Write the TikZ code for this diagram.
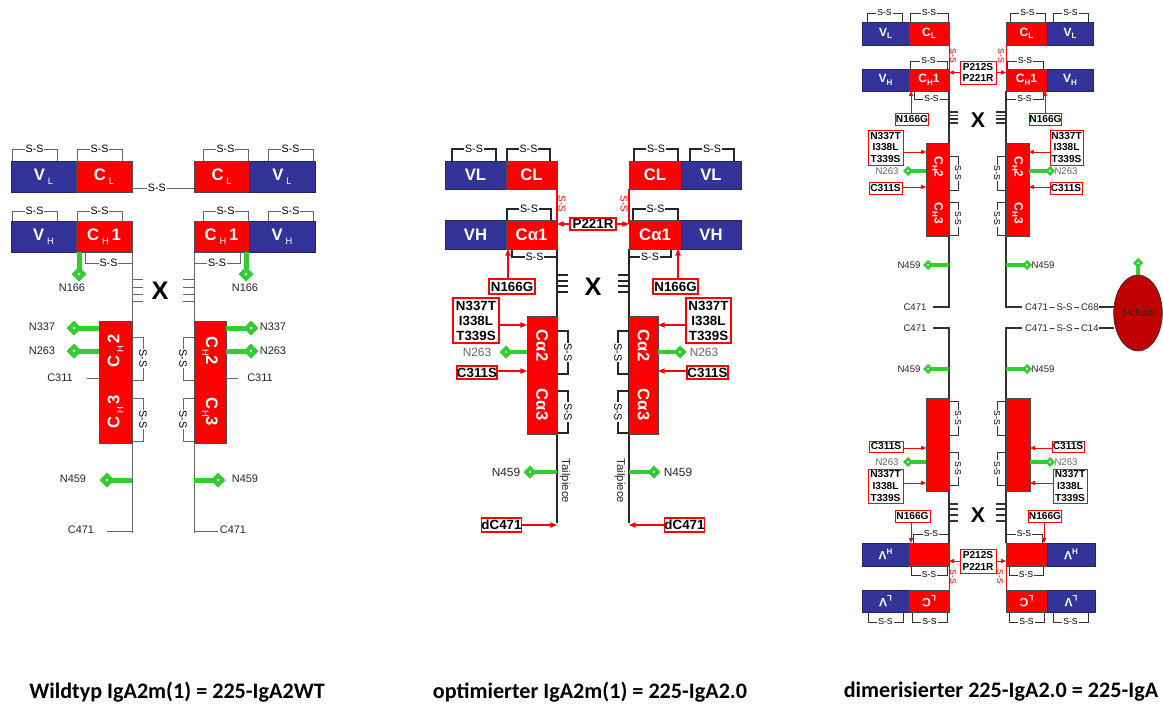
\documentclass[tikz,border=0pt]{standalone}
\usepackage{fontspec}
\setmainfont{Liberation Sans}
\newfontfamily\capfont{Carlito}
\usetikzlibrary{shapes.geometric,arrows.meta}
\definecolor{igblue}{RGB}{51,51,153}
\definecolor{igred}{RGB}{255,0,0}
\definecolor{iggreen}{RGB}{51,204,51}
\definecolor{jred}{RGB}{192,0,0}
\newcommand\fs[1]{\fontsize{#1}{#1}\selectfont}
\newcommand\dom[7]{\node[#2,minimum width={(#5-#3)*0.75pt},minimum height={(#6-#4)*0.75pt}] (#1) at ({(#3+#5)/2},{(#4+#6)/2}) {#7};}
\newcommand\ssh[5]{\draw[#5] (#1,#3) -- (#1,#4) -- node[sst]{S-S} (#2,#4) -- (#2,#3);}
\newcommand\ssv[5]{\draw[#5] (#1,#3) -- (#2,#3) -- node[sst,rotate=-90]{S-S} (#2,#4) -- (#1,#4);}
\newcommand\hatch[4]{\foreach \hy in {#3} {\draw[#4] (#1,\hy) -- (#2,\hy);}}
\newcommand\gly[5]{\node[glyd,minimum size={#4*0.75pt}] (#1) at #3 {};
  \draw[draw=iggreen,line width={#5*0.75pt}] #2 -- (#1.center);
  \fill[white] (#1.center) circle ({#5*0.22pt});}
\newcommand\sbs[1]{\raisebox{-0.45ex}{\mdseries\fs{7}#1}}
\newcommand\sbr[1]{\raisebox{-0.4ex}{\fs{6}#1}}
\newcommand\flp[1]{\rotatebox[origin=c]{180}{#1}}
\tikzset{
  every node/.style={inner sep=0pt,outer sep=0pt},
  bx/.style={draw=black!70,line width=0.4pt,text=white},
  bluebox/.style={bx,fill=igblue,draw=igblue!70!black},
  redbox/.style={bx,fill=igred},
  fL/.style={font=\bfseries\fs{12.5}},
  fM/.style={font=\bfseries\fs{12.5}},
  fR/.style={font=\bfseries\fs{9}},
  sst/.style={fill=white,inner sep=0.7pt},
  glyd/.style={diamond,fill=iggreen,inner sep=0pt},
  labL/.style={font=\fs{8.2},text=black!85},
  labM/.style={font=\fs{8.9},text=black!85},
  labR/.style={font=\fs{7.2},text=black!85},
  mutM/.style={draw=igred,line width=0.9pt,fill=white,text=black,align=center,font=\bfseries\fontsize{10}{11.3}\selectfont},
  mutR/.style={draw=igred,line width=0.7pt,fill=white,text=black,align=center,font=\bfseries\fontsize{7.6}{8.8}\selectfont},
  marr/.style={draw=igred,line width=0.8pt,-{Triangle[length=5pt,width=4pt]}},
  rarr/.style={draw=igred,line width=0.6pt,-{Triangle[length=3.6pt,width=3pt]}},
  redl/.style={draw=igred,line width=0.8pt},
  redss/.style={text=igred,rotate=-90},
  capt/.style={font=\capfont\bfseries\fs{16.6}}
}
\begin{document}
\begin{tikzpicture}[x=0.75pt,y=-0.75pt]
\useasboundingbox (0,0) rectangle (1163,704);

%%%%%%%%%%%%%%%% LEFT: wild type
\begin{scope}[lss/.style={draw=black!60,line width=0.6pt,font=\fs{8}},hl/.style={draw=black!60,line width=0.7pt}]
\draw[hl] (132,252) -- (132,533);
\draw[hl] (194,252) -- (194,533);
\draw[hl] (107,531) -- (132,531);
\draw[hl] (194,531) -- (218,531);
\ssh{12}{57}{161}{149}{lss}
\ssh{77}{122}{161}{149}{lss}
\ssh{203}{248}{161}{149}{lss}
\ssh{268}{313}{161}{149}{lss}
\ssh{12}{57}{221}{211}{lss}
\ssh{77}{122}{221}{211}{lss}
\ssh{203}{248}{221}{211}{lss}
\ssh{268}{313}{221}{211}{lss}
\ssh{85}{132}{252}{263}{lss}
\ssh{194}{240}{252}{263}{lss}
\ssv{132}{143}{337}{380}{lss}
\ssv{132}{143}{398}{441}{lss}
\ssv{194}{183}{337}{380}{lss}
\ssv{194}{183}{398}{441}{lss}
\hatch{132}{143}{279,287,294,301}{hl}
\hatch{183}{194}{279,287,294,301}{hl}
\dom{vlL1}{bluebox,fL}{11}{161}{76}{192}{V\,\sbs{L}}
\dom{clL1}{redbox,fL}{76}{161}{132}{192}{C\,\sbs{L}}
\dom{clR1}{redbox,fL}{194}{161}{249}{192}{C\,\sbs{L}}
\dom{vlR1}{bluebox,fL}{249}{161}{315}{192}{V\,\sbs{L}}
\dom{vhL1}{bluebox,fL}{11}{221}{76}{252}{V\,\sbs{H}}
\dom{chL1}{redbox,fL}{76}{221}{132}{252}{C\,\sbs{H}\,1}
\dom{chR1}{redbox,fL}{194}{221}{249}{252}{C\,\sbs{H}\,1}
\dom{vhR1}{bluebox,fL}{249}{221}{315}{252}{V\,\sbs{H}}
\dom{ch2L}{redbox,fL}{99}{321}{132}{381}{\rotatebox{90}{C\,\sbs{H}\,2}}
\dom{ch3L}{redbox,fL}{99}{381}{132}{443}{\rotatebox{90}{C\,\sbs{H}\,3}}
\dom{ch2R}{redbox,fL}{194}{321}{226}{381}{\rotatebox{-90}{C\sbs{H}2}}
\dom{ch3R}{redbox,fL}{194}{381}{226}{443}{\rotatebox{-90}{C\sbs{H}3}}
\draw[lss] (clL1.east |- 0,188) -- node[sst,pos=0.4]{S-S} (clR1.west |- 0,188);
\draw[hl] (87,378) -- (ch2L.west |- 0,378);
\draw[hl] (ch2R.east |- 0,378) -- (238,378);
\gly{g166L}{(chL1.south -| 79,0)}{(79,274)}{15}{5}
\gly{g166R}{(chR1.south -| 246,0)}{(246,274)}{15}{5}
\gly{g337L}{(ch2L.west |- 0,328)}{(74,328)}{15}{5}
\gly{g337R}{(ch2R.east |- 0,328)}{(251,328)}{15}{5}
\gly{g263L}{(ch2L.west |- 0,351)}{(74,351)}{15}{5}
\gly{g263R}{(ch2R.east |- 0,351)}{(251,351)}{15}{5}
\gly{g459L}{(132,480)}{(107,480)}{15}{5}
\gly{g459R}{(194,480)}{(218,480)}{15}{5}
\node[labL] at (72,288) {N166};
\node[labL] at (245,288) {N166};
\node[labL] at (42,327) {N337};
\node[labL] at (273,327) {N337};
\node[labL] at (42,351) {N263};
\node[labL] at (273,351) {N263};
\node[labL] at (60,378) {C311};
\node[labL] at (260,378) {C311};
\node[labL] at (73,479) {N459};
\node[labL] at (245,479) {N459};
\node[labL] at (81,530) {C471};
\node[labL] at (233,530) {C471};
\node[font=\bfseries\fs{19}] at (160,291) {X};
\end{scope}

%%%%%%%%%%%%%%%% MIDDLE: optimised
\begin{scope}[mss/.style={draw=black!85,line width=0.9pt,font=\fs{8}},ml/.style={draw=black!85,line width=1pt}]
\coordinate (tailL) at (557,523);
\coordinate (tailR) at (629,523);
\draw[ml] (557,249) -- (tailL);
\draw[ml] (629,249) -- (tailR);
\ssh{452}{496}{161}{149}{mss}
\ssh{507}{550}{161}{149}{mss}
\ssh{634}{678}{161}{149}{mss}
\ssh{690}{734}{161}{149}{mss}
\ssh{507}{551}{220}{209}{mss}
\ssh{633}{678}{220}{209}{mss}
\ssh{512}{557}{249}{257}{mss}
\ssh{629}{671}{249}{257}{mss}
\ssv{557}{568}{331}{374}{mss}
\ssv{557}{568}{391}{433}{mss}
\ssv{629}{618}{331}{374}{mss}
\ssv{629}{618}{391}{433}{mss}
\hatch{557}{568}{275,281,286,292}{ml}
\hatch{618}{629}{275,281,286,292}{ml}
\dom{vlL2}{bluebox,fM}{445}{161}{506}{189}{VL}
\dom{clL2}{redbox,fM}{506}{161}{557}{189}{CL}
\dom{clR2}{redbox,fM}{629}{161}{681}{189}{CL}
\dom{vlR2}{bluebox,fM}{681}{161}{741}{189}{VL}
\dom{vhL2}{bluebox,fM}{445}{220}{506}{249}{VH}
\dom{caL1}{redbox,fM}{506}{220}{557}{249}{Cα1}
\dom{caR1}{redbox,fM}{629}{220}{681}{249}{Cα1}
\dom{vhR2}{bluebox,fM}{681}{220}{741}{249}{VH}
\dom{ca2L}{redbox,fM}{527}{316}{557}{375}{\rotatebox{-90}{Cα2}}
\dom{ca3L}{redbox,fM}{527}{375}{557}{434}{\rotatebox{-90}{Cα3}}
\dom{ca2R}{redbox,fM}{629}{316}{658}{375}{\rotatebox{-90}{Cα2}}
\dom{ca3R}{redbox,fM}{629}{375}{658}{434}{\rotatebox{-90}{Cα3}}
\gly{m263L}{(ca2L.west |- 0,352)}{(506,352)}{13}{4}
\gly{m263R}{(ca2R.east |- 0,352)}{(680,352)}{13}{4}
\gly{m459L}{(557,472)}{(530,472)}{13}{4}
\gly{m459R}{(629,472)}{(654,472)}{13}{4}
\node[labM,text=black!60] at (477,352) {N263};
\node[labM,text=black!60] at (704,352) {N263};
\node[labM] at (506,472) {N459};
\node[labM] at (678,472) {N459};
\node[labM,rotate=-90,font=\fs{8.5}] at (565,481) {Tailpiece};
\node[labM,rotate=-90,font=\fs{8.5}] at (620,481) {Tailpiece};
\node[font=\bfseries\fs{19}] at (593,287) {X};
\dom{p221}{mutM}{570}{218}{616}{230}{P221R}
\dom{n166L}{mutM}{489}{279}{535}{294}{N166G}
\dom{n166R}{mutM}{653}{279}{698}{294}{N166G}
\dom{mutL}{mutM}{453}{298}{499}{343}{N337T\\I338L\\T339S}
\dom{mutR}{mutM}{686}{298}{731}{343}{N337T\\I338L\\T339S}
\dom{c311L}{mutM}{457}{366}{497}{379}{C311S}
\dom{c311R}{mutM}{687}{366}{728}{379}{C311S}
\dom{dcL}{mutM}{483}{518}{520}{532}{dC471}
\dom{dcR}{mutM}{666}{518}{703}{532}{dC471}
\draw[redl] (clL2.south east) -- (caL1.east |- p221);
\draw[redl] (clR2.south west) -- (caR1.west |- p221);
\node[redss,font=\fs{7.5}] at (562,204) {S-S};
\node[redss,font=\fs{7.5}] at (624,204) {S-S};
\draw[marr] (p221.west) -- (caL1.east |- p221.west);
\draw[marr] (p221.east) -- (caR1.west |- p221.east);
\draw[marr] (n166L.north -| 508,0) -- (caL1.south -| 508,0);
\draw[marr] (n166R.north -| 678,0) -- (caR1.south -| 678,0);
\draw[marr] (mutL.east |- 0,325) -- (ca2L.west |- 0,325);
\draw[marr] (mutR.west |- 0,325) -- (ca2R.east |- 0,325);
\draw[marr] (c311L.east |- 0,371) -- (ca2L.west |- 0,371);
\draw[marr] (c311R.west |- 0,371) -- (ca2R.east |- 0,371);
\draw[marr] (dcL.east) -- (tailL |- dcL.east);
\draw[marr] (dcR.west) -- (tailR |- dcR.west);
\end{scope}

%%%%%%%%%%%%%%%% RIGHT: dimer
\begin{scope}[rss/.style={draw=black!80,line width=0.7pt,font=\fs{6.5}},rl/.style={draw=black!80,line width=0.8pt}]
\draw[rl] (949,91) -- (949,307) -- ++(-16,0);
\draw[rl] (1006,91) -- (1006,307) -- ++(16,0);
\draw[rl] (933,328) -- (949,328) -- (949,543);
\draw[rl] (1022,328) -- (1006,328) -- (1006,543);
\ssh{867}{902}{22}{13}{rss}
\ssh{910}{948}{22}{13}{rss}
\ssh{1010}{1045}{22}{13}{rss}
\ssh{1053}{1088}{22}{13}{rss}
\ssh{910}{947}{69}{61}{rss}
\ssh{1007}{1043}{69}{61}{rss}
\ssh{914}{949}{91}{99}{rss}
\ssh{1006}{1043}{91}{99}{rss}
\ssv{949}{958}{156}{190}{rss}
\ssv{949}{958}{202}{235}{rss}
\ssv{1006}{997}{156}{190}{rss}
\ssv{1006}{997}{202}{235}{rss}
\ssv{949}{958}{401}{435}{rss}
\ssv{949}{958}{452}{485}{rss}
\ssv{1006}{997}{401}{435}{rss}
\ssv{1006}{997}{452}{485}{rss}
\ssh{913}{949}{543}{534}{rss}
\ssh{1006}{1042}{543}{534}{rss}
\ssh{911}{947}{566}{575}{rss}
\ssh{1009}{1043}{566}{575}{rss}
\ssh{868}{903}{612}{622}{rss}
\ssh{912}{947}{612}{622}{rss}
\ssh{1009}{1044}{612}{622}{rss}
\ssh{1053}{1088}{612}{622}{rss}
\hatch{949}{958}{112,115.5,119,123}{rl}
\hatch{996}{1006}{112,115.5,119,123}{rl}
\hatch{949}{958}{504,509,515,521}{rl}
\hatch{996}{1006}{504,509,515,521}{rl}
\dom{vlL3}{bluebox,fR}{862}{22}{909}{45}{V\sbr{L}}
\dom{clL3}{redbox,fR}{909}{22}{949}{45}{C\sbr{L}}
\dom{clR3}{redbox,fR}{1006}{22}{1047}{45}{C\sbr{L}}
\dom{vlR3}{bluebox,fR}{1047}{22}{1093}{45}{V\sbr{L}}
\dom{vhL3}{bluebox,fR}{862}{69}{909}{91}{V\sbr{H}}
\dom{chL3}{redbox,fR}{909}{69}{949}{91}{C\sbr{H}1}
\dom{chR3}{redbox,fR}{1006}{69}{1047}{91}{C\sbr{H}1}
\dom{vhR3}{bluebox,fR}{1047}{69}{1093}{91}{V\sbr{H}}
\dom{ch2L3}{redbox,fR}{926}{143}{949}{191}{\rotatebox{-90}{C\sbr{H}2}}
\dom{ch3L3}{redbox,fR}{926}{191}{949}{236}{\rotatebox{-90}{C\sbr{H}3}}
\dom{ch2R3}{redbox,fR}{1006}{143}{1029}{191}{\rotatebox{-90}{C\sbr{H}2}}
\dom{ch3R3}{redbox,fR}{1006}{191}{1029}{236}{\rotatebox{-90}{C\sbr{H}3}}
\dom{bxL1}{redbox}{926}{398}{949}{445}{}
\dom{bxL2}{redbox}{926}{445}{949}{491}{}
\dom{bxR1}{redbox}{1006}{398}{1030}{445}{}
\dom{bxR2}{redbox}{1006}{445}{1030}{491}{}
\dom{vhL4}{bluebox,fR}{862}{543}{909}{566}{\flp{V}\raisebox{0.9ex}{\fs{6}H}}
\dom{chL4}{redbox}{909}{543}{949}{566}{}
\dom{chR4}{redbox}{1006}{543}{1047}{566}{}
\dom{vhR4}{bluebox,fR}{1047}{543}{1095}{566}{\flp{V}\raisebox{0.9ex}{\fs{6}H}}
\dom{vlL4}{bluebox,fR}{862}{590}{909}{612}{\flp{V}\raisebox{0.9ex}{\flp{\fs{6}L}}}
\dom{clL4}{redbox,fR}{909}{590}{949}{612}{\flp{C}\raisebox{0.9ex}{\flp{\fs{6}L}}}
\dom{clR4}{redbox,fR}{1006}{590}{1047}{612}{\flp{C}\raisebox{0.9ex}{\flp{\fs{6}L}}}
\dom{vlR4}{bluebox,fR}{1047}{590}{1095}{612}{\flp{V}\raisebox{0.9ex}{\flp{\fs{6}L}}}
\node[ellipse,fill=jred,draw=black!80,line width=0.5pt,minimum width={46*0.75pt},minimum height={76*0.75pt},font=\fs{8},text=black!85] (jc) at (1138,313) {J-chain};
\node[labR,anchor=west] (lk1) at (1025,307) {C471\,{\bfseries–}\,S-S\,{\bfseries–}\,C68};
\node[labR,anchor=west] (lk2) at (1025,328) {C471\,{\bfseries–}\,S-S\,{\bfseries–}\,C14};
\draw[rl] (lk1.east) -- (lk1.east -| jc.west);
\draw[rl] (lk2.east) -- (lk2.east -| jc.west);
\gly{r263a}{(ch2L3.west |- 0,171)}{(908,171)}{10}{3.5}
\gly{r263b}{(ch2R3.east |- 0,171)}{(1050,171)}{10}{3.5}
\gly{r459a}{(949,265)}{(928,265)}{10}{3.5}
\gly{r459b}{(1006,265)}{(1027,265)}{10}{3.5}
\gly{r459c}{(949,369)}{(928,369)}{10}{3.5}
\gly{r459d}{(1006,369)}{(1027,369)}{10}{3.5}
\gly{r263c}{(bxL2.west |- 0,462)}{(908,462)}{10}{3.5}
\gly{r263d}{(bxR2.east |- 0,462)}{(1050,462)}{10}{3.5}
\gly{rj}{(jc.north)}{(1138,263)}{10}{3.5}
\node[labR,text=black!60] at (887,171) {N263};
\node[labR,text=black!60] at (1066,171) {N263};
\node[labR] at (909,265) {N459};
\node[labR] at (1043,265) {N459};
\node[labR] at (909,369) {N459};
\node[labR] at (1043,369) {N459};
\node[labR,text=black!60] at (887,462) {N263};
\node[labR,text=black!60] at (1066,462) {N263};
\node[labR] at (915,307) {C471};
\node[labR] at (915,328) {C471};
\node[font=\bfseries\fs{16}] at (978,120) {X};
\node[font=\bfseries\fs{16}] at (978,515) {X};
\dom{p212a}{mutR}{960}{61}{996}{84}{P212S\\P221R}
\dom{p212b}{mutR}{960}{549}{996}{573}{P212S\\P221R}
\dom{rn166a}{mutR}{896}{113}{928}{125}{N166G}
\dom{rn166b}{mutR}{1030}{113}{1061}{125}{N166G}
\dom{rmut1}{mutR}{868}{130}{903}{165}{N337T\\I338L\\T339S}
\dom{rmut2}{mutR}{1050}{130}{1083}{165}{N337T\\I338L\\T339S}
\dom{rc311a}{mutR}{869}{182}{902}{194}{C311S}
\dom{rc311b}{mutR}{1050}{182}{1082}{194}{C311S}
\dom{rc311c}{mutR}{869}{441}{903}{452}{C311S}
\dom{rc311d}{mutR}{1052}{441}{1084}{452}{C311S}
\dom{rmut3}{mutR}{868}{469}{903}{503}{N337T\\I338L\\T339S}
\dom{rmut4}{mutR}{1053}{469}{1087}{503}{N337T\\I338L\\T339S}
\dom{rn166c}{mutR}{895}{510}{930}{522}{N166G}
\dom{rn166d}{mutR}{1029}{510}{1061}{522}{N166G}
\draw[redl,line width=0.7pt] (clL3.south east) -- (chL3.east |- p212a);
\draw[redl,line width=0.7pt] (clR3.south west) -- (chR3.west |- p212a);
\draw[redl,line width=0.7pt] (chL4.east |- p212b) -- (clL4.north east);
\draw[redl,line width=0.7pt] (chR4.west |- p212b) -- (clR4.north west);
\node[redss,font=\fs{6.5}] at (953,56) {S-S};
\node[redss,font=\fs{6.5}] at (1001,56) {S-S};
\node[redss,font=\fs{6.5}] at (953,577) {S-S};
\node[redss,font=\fs{6.5}] at (1000,577) {S-S};
\draw[rarr] (p212a.west) -- (chL3.east |- p212a.west);
\draw[rarr] (p212a.east) -- (chR3.west |- p212a.east);
\draw[rarr] (p212b.west) -- (chL4.east |- p212b.west);
\draw[rarr] (p212b.east) -- (chR4.west |- p212b.east);
\draw[rarr] (rn166a.north -| 911,0) -- (chL3.south -| 911,0);
\draw[rarr] (rn166b.north -| 1045,0) -- (chR3.south -| 1045,0);
\draw[rarr] (rmut1.east |- 0,152) -- (ch2L3.west |- 0,152);
\draw[rarr] (rmut2.west |- 0,152) -- (ch2R3.east |- 0,152);
\draw[rarr] (rc311a.east |- 0,187) -- (ch2L3.west |- 0,187);
\draw[rarr] (rc311b.west |- 0,187) -- (ch2R3.east |- 0,187);
\draw[rarr] (rc311c.east |- 0,448) -- (bxL2.west |- 0,448);
\draw[rarr] (rc311d.west |- 0,448) -- (bxR2.east |- 0,448);
\draw[rarr] (rmut3.east |- 0,483) -- (bxL2.west |- 0,483);
\draw[rarr] (rmut4.west |- 0,483) -- (bxR2.east |- 0,483);
\draw[rarr] (rn166c.south -| 911,0) -- (chL4.north -| 911,0);
\draw[rarr] (rn166d.south -| 1044,0) -- (chR4.north -| 1044,0);
\end{scope}

%%%%%%%%%%%%%%%% captions
\node[capt] (cap1) at (177,692) {Wildtyp IgA2m(1) = 225-IgA2WT};
\node[capt] (cap2) at (590,692) {optimierter IgA2m(1) = 225-IgA2.0};
\node[capt] (cap3) at (1001,692) {dimerisierter 225-IgA2.0 = 225-IgA};
\end{tikzpicture}
\end{document}
